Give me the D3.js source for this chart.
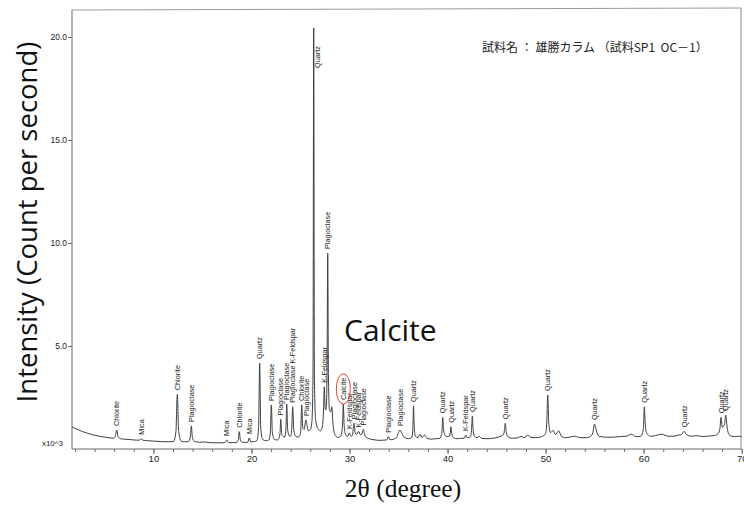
<!DOCTYPE html>
<html>
<head>
<meta charset="utf-8">
<script src="https://cdn.jsdelivr.net/npm/d3@7"></script>
<style>
  html, body { margin: 0; padding: 0; background: #fff; }
  svg { display: block; }
</style>
</head>
<body>
<svg id="chart" width="744" height="509"></svg>
<script>
// X-ray diffraction pattern, 2θ (degree) vs intensity (x10^3 cps)

// Measured trace, split by angular range: [2θ, intensity]
const patternLow = [
  [1.7,1.08],[2.0,1.0],[2.4,0.92],[2.8,0.84],[3.3,0.76],[3.9,0.68],[4.5,0.62],[5.1,0.57],[5.6,0.54],
  [5.95,0.52],[6.12,0.62],[6.26,0.92],[6.4,0.6],[6.65,0.5],[7.2,0.47],[7.8,0.45],[8.3,0.43],
  [8.58,0.43],[8.74,0.5],[8.92,0.43],[9.5,0.4],[10.1,0.38],[10.8,0.36],[11.5,0.35],
  [12.05,0.36],[12.3,0.85],[12.44,2.66],[12.58,0.85],[12.85,0.37],[13.3,0.35],
  [13.6,0.36],[13.76,0.58],[13.87,1.12],[13.98,0.56],[14.2,0.36],[14.7,0.33],[15.2,0.34],
  [15.7,0.31],[16.3,0.3],[16.9,0.3],[17.3,0.31],[17.48,0.44],[17.65,0.31],[18.2,0.31],
  [18.5,0.32],[18.66,0.46],[18.76,0.84],[18.87,0.45],[19.05,0.33],[19.45,0.32],
  [19.62,0.33],[19.78,0.54],[19.94,0.35],[20.3,0.36]
];
const patternMid = [
  [20.56,0.42],[20.73,1.05],[20.84,4.17],[20.95,1.0],[21.15,0.46],[21.5,0.4],
  [21.78,0.44],[21.93,0.82],[22.03,2.14],[22.13,0.82],[22.35,0.46],[22.6,0.44],
  [22.82,0.52],[22.92,0.8],[22.99,1.44],[23.08,0.76],[23.22,0.62],
  [23.4,0.58],[23.51,0.92],[23.6,2.18],[23.7,0.92],[23.86,0.64],
  [24.0,0.62],[24.11,0.96],[24.21,2.05],[24.31,0.96],[24.5,0.62],[24.75,0.58],
  [24.93,0.64],[25.04,1.0],[25.13,2.14],[25.23,1.05],[25.38,0.95],
  [25.48,1.25],[25.57,1.41],[25.68,1.1],[25.85,0.88],[26.02,0.95],
  [26.17,1.35],[26.28,3.6],[26.35,20.44],[26.42,3.6],[26.54,1.45],[26.78,0.98],[27.05,0.88],
  [27.25,1.15],[27.36,2.0],[27.43,3.02],[27.52,1.95],
  [27.62,1.9],[27.71,3.6],[27.78,9.51],[27.85,3.6],[27.96,1.9],
  [28.1,1.8],[28.19,2.05],[28.32,1.2],[28.5,0.72],[28.8,0.56],[29.05,0.6],
  [29.22,0.82],[29.3,1.3],[29.37,2.18],[29.45,1.2],[29.6,0.7],
  [29.8,0.6],[29.98,0.78],[30.15,0.62],[30.3,0.66],[30.38,0.95],[30.46,1.25],[30.56,0.85],
  [30.72,0.7],[30.94,0.85],[31.1,0.7],[31.25,0.72],[31.41,0.95],[31.6,0.62],[32.0,0.5]
];
const patternHigh = [
  [32.5,0.45],[33.0,0.42],[33.5,0.43],[33.8,0.44],[33.96,0.6],[34.12,0.45],[34.5,0.48],
  [34.8,0.56],[35.0,0.8],[35.15,0.92],[35.35,0.75],[35.6,0.56],[36.0,0.5],[36.3,0.53],
  [36.42,0.72],[36.47,1.1],[36.53,2.09],[36.6,1.1],[36.72,0.62],[37.0,0.55],[37.2,0.72],
  [37.4,0.55],[37.65,0.68],[37.9,0.52],[38.3,0.48],[38.8,0.5],[39.2,0.52],
  [39.38,0.7],[39.45,1.0],[39.51,1.54],[39.58,1.0],[39.72,0.68],[39.95,0.6],
  [40.2,0.62],[40.28,0.8],[40.35,1.08],[40.43,0.75],[40.6,0.55],[41.0,0.5],[41.4,0.52],
  [41.7,0.52],[41.85,0.68],[42.0,0.55],[42.35,0.6],[42.45,0.95],[42.53,1.6],[42.6,1.0],
  [42.75,0.62],[43.0,0.55],[43.2,0.62],[43.45,0.52],[44.0,0.5],[44.6,0.52],[45.2,0.58],
  [45.7,0.7],[45.8,0.9],[45.89,1.25],[45.98,0.85],[46.15,0.6],[46.6,0.52],[47.2,0.55],
  [47.5,0.62],[47.8,0.55],[48.2,0.68],[48.5,0.56],[49.0,0.55],[49.6,0.6],
  [50.0,0.75],[50.12,1.3],[50.22,2.62],[50.32,1.3],[50.5,0.8],[50.79,0.9],[51.0,0.7],
  [51.34,0.88],[51.6,0.62],[52.0,0.55],[52.5,0.58],[52.9,0.62],[53.17,0.6],[53.5,0.55],
  [54.2,0.55],[54.6,0.62],[54.82,0.8],[54.9,1.0],[54.97,1.21],[55.1,1.05],[55.24,0.8],
  [55.45,0.62],[56.0,0.58],[56.8,0.57],[57.5,0.6],[58.2,0.62],[58.78,0.72],[59.2,0.6],
  [59.7,0.62],[59.9,0.8],[60.0,1.2],[60.07,2.05],[60.15,1.3],[60.3,0.78],[60.7,0.62],
  [61.2,0.65],[61.84,0.72],[62.5,0.62],[63.0,0.62],[63.6,0.68],[63.9,0.72],[64.12,0.86],
  [64.35,0.7],[64.9,0.62],[65.5,0.65],[66.0,0.6],[66.6,0.63],[67.2,0.65],[67.6,0.75],
  [67.78,1.0],[67.89,1.54],[68.02,1.05],[68.25,1.2],[68.37,1.65],[68.5,1.1],[68.7,0.7],
  [69.0,0.62],[69.4,0.6],[69.7,0.62],[70.0,0.6]
];

// Identified phases and the peak angle each name is attached to
const peakNames = [
  "Chlorite","Mica","Chlorite","Plagioclase","Mica","Chlorite","Mica","Quartz",
  "Plagioclase","Plagioclase","Plagioclase","Plagioclase K-Feldspar","Chlorite","Plagioclase",
  "Quartz","K-Feldspar","Plagioclase","Calcite","K-Feldspar","Plagioclase","K-Feldspar",
  "Plagioclase","Plagioclase","Plagioclase","Quartz","Quartz","Quartz","K-Feldspar","Quartz",
  "Quartz","Quartz","Quartz","Quartz","Quartz","Quartz","Quartz"
];
const peakAngles = [
  6.26, 8.74, 12.44, 13.87, 17.48, 18.76, 19.78, 20.84,
  22.03, 22.99, 23.6, 24.21, 25.13, 25.57,
  26.35, 27.43, 27.78, 29.37, 29.98, 30.46, 30.94,
  31.41, 33.96, 35.15, 36.53, 39.51, 40.35, 41.85, 42.53,
  45.89, 50.22, 54.97, 60.07, 64.12, 67.89, 68.37
];

// Axis ticks
const yTickValues = [5, 10, 15, 20];
const xMajorTicks = [10, 20, 30, 40, 50, 60, 70];
const xMinorTicks = d3.range(2, 71, 2);

const sampleTitle = "試料名 ： 雄勝カラム （試料SP1  OC－1）";
const highlightPhase = "Calcite";

const pattern = patternLow.concat(patternMid, patternHigh);

const svg = d3.select("#chart");
const x = d3.scaleLinear().domain([1.7, 70]).range([72, 741.7]);
const y = d3.scaleLinear().domain([0, 20]).range([449, 37]);

const axisColor = "#6a6a6a";

// Plot frame (top and right edges)
svg.append("line").attr("x1", 72).attr("x2", 741).attr("y1", 10).attr("y2", 8)
  .attr("stroke", "#9a9a9a").attr("stroke-width", 1);
svg.append("line").attr("x1", 741).attr("x2", 741).attr("y1", 8).attr("y2", 449)
  .attr("stroke", "#8a8a8a").attr("stroke-width", 1);

// Left axis
const yAxis = svg.append("g").attr("transform", "translate(72,0)")
  .call(d3.axisLeft(y).tickValues(yTickValues).tickFormat(d3.format(".1f")).tickSize(4).tickSizeOuter(0));
yAxis.select(".domain").remove();
svg.append("line").attr("x1", 72).attr("x2", 72).attr("y1", 10).attr("y2", 449)
  .attr("stroke", axisColor).attr("stroke-width", 1);
yAxis.selectAll(".tick line").attr("stroke", axisColor);
yAxis.selectAll(".tick text")
  .attr("font-family", "Liberation Sans, Arial, sans-serif").attr("font-size", 8.5)
  .attr("fill", "#222").attr("x", -5);
svg.append("text").attr("x", 63).attr("y", 446).attr("text-anchor", "end")
  .attr("font-family", "Liberation Sans, Arial, sans-serif").attr("font-size", 8)
  .attr("fill", "#222").text("x10^3");

// Bottom axis: minor ticks every 2°, labels every 10°
const xAxisMinor = svg.append("g").attr("transform", "translate(0,449)")
  .call(d3.axisBottom(x).tickValues(xMinorTicks).tickFormat("").tickSize(3).tickSizeOuter(0));
xAxisMinor.select(".domain").remove();
xAxisMinor.selectAll(".tick line").attr("stroke", axisColor);
const xAxis = svg.append("g").attr("transform", "translate(0,449)")
  .call(d3.axisBottom(x).tickValues(xMajorTicks).tickFormat(d3.format("d")).tickSize(5).tickSizeOuter(0));
xAxis.select(".domain").remove();
xAxis.selectAll(".tick line").attr("stroke", axisColor);
xAxis.selectAll(".tick text")
  .attr("font-family", "Liberation Sans, Arial, sans-serif").attr("font-size", 9.5)
  .attr("fill", "#222").attr("y", 6);
svg.append("line").attr("x1", 72).attr("x2", 741.7).attr("y1", 449).attr("y2", 449)
  .attr("stroke", axisColor).attr("stroke-width", 1);

// Diffraction trace
const line = d3.line().x(d => x(d[0])).y(d => y(d[1])).curve(d3.curveMonotoneX);
svg.append("path").datum(pattern)
  .attr("d", line).attr("fill", "none")
  .attr("stroke", "#3d3d3d").attr("stroke-width", 1).attr("stroke-linejoin", "round");

// Phase labels, stood upright just above each peak
function peakTop(angle) {
  const near = pattern.filter(p => Math.abs(p[0] - angle) < 0.06);
  return d3.max(near, p => p[1]);
}
const labels = svg.append("g")
  .attr("font-family", "Liberation Sans, Arial, sans-serif")
  .attr("font-size", 7.3).attr("fill", "#222");
peakNames.forEach((name, i) => {
  const px = x(peakAngles[i]);
  const py = y(peakTop(peakAngles[i]));
  const t = labels.append("text").attr("text-anchor", "start").attr("dy", "0.35em").text(name);
  const len = t.node().getComputedTextLength();
  let lx = px, ly = py - 4;
  if (ly - len < 14) { lx = px + 4; ly = py + 40; }
  t.attr("transform", `translate(${lx},${ly}) rotate(-90)`);
  if (name === highlightPhase) {
    svg.append("ellipse")
      .attr("cx", lx).attr("cy", ly - len / 2)
      .attr("rx", 7).attr("ry", len / 2 + 4)
      .attr("fill", "none").attr("stroke", "#e0463c").attr("stroke-width", 1);
  }
});

// Sample name
svg.append("text").attr("x", 482).attr("y", 52)
  .attr("font-family", "Noto Sans CJK JP, sans-serif").attr("font-size", 12)
  .attr("fill", "#222").style("white-space", "pre").text(sampleTitle);

// Callout of the highlighted phase
svg.append("text").attr("x", 344).attr("y", 341)
  .attr("font-family", "Open Sans, sans-serif").attr("font-size", 30)
  .attr("fill", "#111").text(highlightPhase);

// Axis titles
svg.append("text").attr("transform", "translate(37,222) rotate(-90)")
  .attr("text-anchor", "middle")
  .attr("font-family", "Open Sans, sans-serif").attr("font-size", 27.5)
  .attr("fill", "#111").text("Intensity (Count per second)");
svg.append("text").attr("x", 403).attr("y", 497).attr("text-anchor", "middle")
  .attr("font-family", "Liberation Serif, Times New Roman, serif").attr("font-size", 25.5)
  .attr("fill", "#111").text("2θ (degree)");
</script>
</body>
</html>
